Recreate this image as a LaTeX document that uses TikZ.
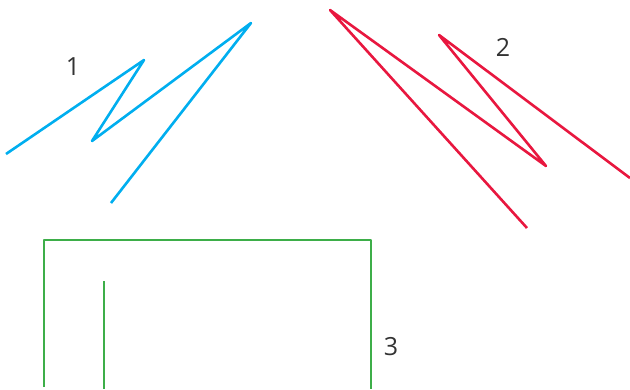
\documentclass[tikz,border=0pt]{standalone}
\usepackage{fontspec}
\setmainfont{Open Sans}
\definecolor{cblue}{RGB}{0,174,239}
\definecolor{cred}{RGB}{232,23,63}
\definecolor{cgreen}{RGB}{61,174,73}
\definecolor{ctext}{RGB}{51,51,51}
\begin{document}
\begin{tikzpicture}[x=1pt,y=-1pt,
  stroke/.style={line width=2.6pt,line join=round,line cap=butt},
  lbl/.style={text=ctext,font=\fontsize{25}{25}\selectfont,inner sep=0pt}]
\useasboundingbox (0,0) rectangle (630,389);
% blue
\coordinate (b1) at (6,154);
\coordinate (b2) at (144,60);
\coordinate (b3) at (92,141);
\coordinate (b4) at (251,23);
\coordinate (b5) at (111,203);
\draw[stroke,cblue] (b1) -- (b2) -- (b3) -- (b4) -- (b5);
\node[lbl] (l1) at (73,67) {1};
% red
\coordinate (r1) at (527,228);
\coordinate (r2) at (330,10);
\coordinate (r3) at (546,166);
\coordinate (r4) at (439,35);
\coordinate (r5) at (630,178);
\draw[stroke,cred] (r1) -- (r2) -- (r3) -- (r4) -- (r5);
\node[lbl] (l2) at (503,47) {2};
% green
\coordinate (g1) at (44,387);
\coordinate (g2) at (44,240);
\coordinate (g3) at (371,240);
\coordinate (g4) at (371,389);
\coordinate (g5) at (104,281);
\coordinate (g6) at (104,389);
\draw[stroke,cgreen] (g1) -- (g2) -- (g3) -- (g4);
\draw[stroke,cgreen] (g5) -- (g6);
\node[lbl] (l3) at (391,347) {3};
\end{tikzpicture}
\end{document}
